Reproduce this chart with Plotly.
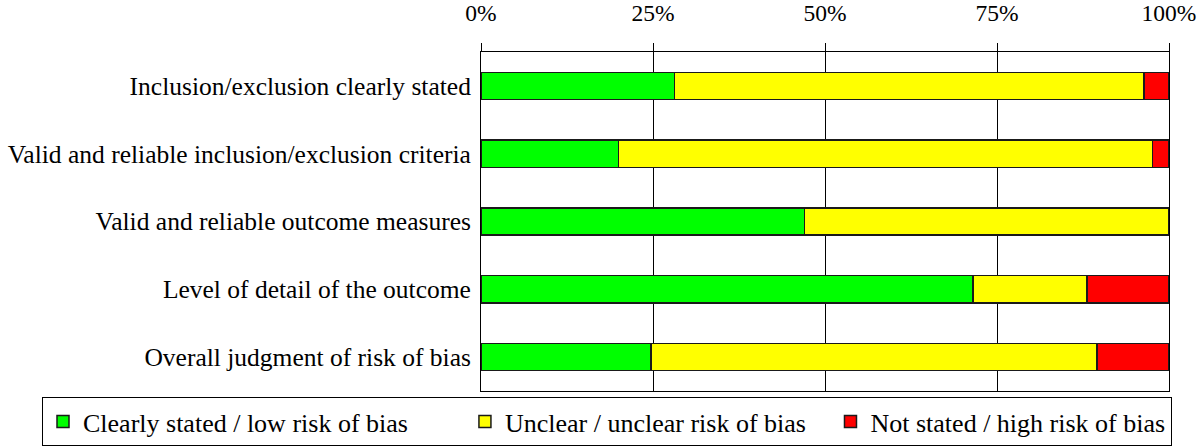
import plotly.graph_objects as go

categories = [
    "Inclusion/exclusion clearly stated",
    "Valid and reliable inclusion/exclusion criteria",
    "Valid and reliable outcome measures",
    "Level of detail of the outcome",
    "Overall judgment of risk of bias",
]
low_risk = [28.1, 20.0, 47.0, 71.5, 24.7]
unclear_risk = [68.3, 77.6, 53.0, 16.6, 64.8]
high_risk = [3.6, 2.4, 0.0, 11.9, 10.5]

series_names = [
    "Clearly stated / low risk of bias",
    "Unclear / unclear risk of bias",
    "Not stated / high risk of bias",
]
series_colors = ["#00ff00", "#ffff00", "#ff0000"]
tick_vals = [0, 25, 50, 75, 100]
tick_text = ["0%", "25%", "50%", "75%", "100%"]

FONT = "Liberation Serif, Times New Roman, serif"
NB = "\u00a0"
legend_pads = [NB * 8, NB * 3, ""]

W, H = 1200, 447
ML, MR, MT, MB = 10, 31, 52, 56
AXIS_LEFT = 481
x_dom0 = (AXIS_LEFT - ML) / (W - ML - MR)

fig = go.Figure()
for name, pad, vals, col in zip(series_names, legend_pads,
                                [low_risk, unclear_risk, high_risk], series_colors):
    fig.add_trace(go.Bar(
        y=categories, x=vals, name=name + pad, orientation="h",
        marker=dict(color=col, line=dict(color="#1a1a1a", width=1.5)),
        width=0.4,
    ))

fig.update_layout(
    barmode="stack",
    width=W, height=H,
    margin=dict(l=ML, r=MR, t=MT, b=MB),
    paper_bgcolor="white", plot_bgcolor="white",
    font=dict(family=FONT, size=22, color="black"),
    showlegend=True,
    legend=dict(
        orientation="h",
        xref="container", yref="container",
        x=42 / W, xanchor="left",
        y=1 / H, yanchor="bottom",
        bordercolor="black", borderwidth=1,
        font=dict(family=FONT, size=26, color="black"),
        traceorder="normal",
    ),
    xaxis=dict(
        domain=[x_dom0, 1],
        side="top", range=[0, 100], tickvals=tick_vals, ticktext=tick_text,
        showgrid=True, gridcolor="black", gridwidth=1,
        ticks="outside", ticklen=8, tickcolor="black",
        showline=True, linecolor="black", linewidth=1, mirror=True,
        zeroline=False, tickfont=dict(family=FONT, size=23.5),
        ticklabelstandoff=13, automargin=False,
        fixedrange=True,
    ),
    yaxis=dict(
        autorange="reversed", automargin=False,
        showline=True, linecolor="black", linewidth=1, mirror=True,
        ticks="", showgrid=False, ticklabelstandoff=4,
        tickfont=dict(family=FONT, size=25.5),
        fixedrange=True,
    ),
    bargap=0.6,
)

fig.write_html("out.html", post_script="document.body.style.margin='0';",
               config={"displayModeBar": False})
